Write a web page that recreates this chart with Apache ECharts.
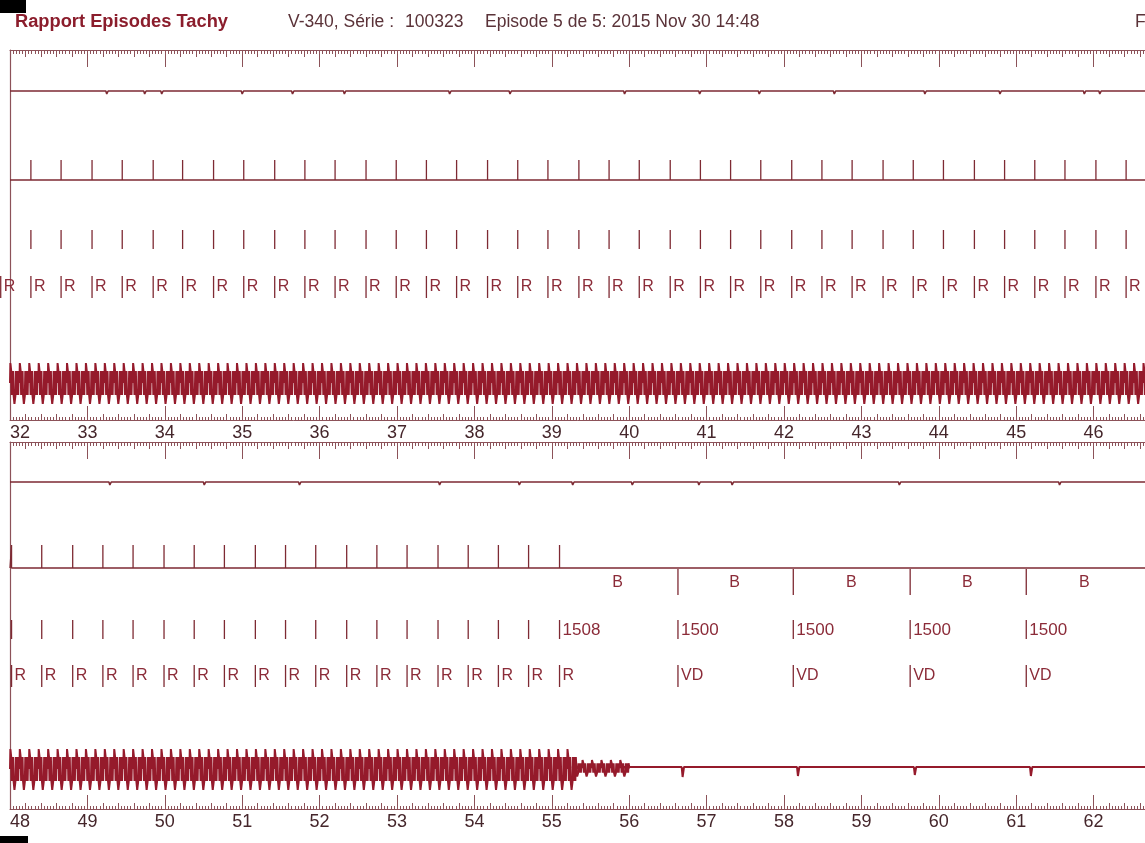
<!DOCTYPE html>
<html>
<head>
<meta charset="utf-8">
<script src="https://cdn.jsdelivr.net/npm/echarts@6/dist/echarts.min.js"></script>
<style>html,body{margin:0;padding:0;background:#fff}#c{width:1145px;height:843px}</style>
</head>
<body>
<div id="c"></div>
<script>
// ---------------- DATA ----------------
const topRange = [32, 48];
const bottomRange = [48, 64];
const secondTicks = 1;

// ventricular sense markers, top strip (s)
const topMarkerTimes = [32.27, 32.66, 33.06, 33.45, 33.85, 34.23, 34.63, 35.02, 35.42, 35.81, 36.20, 36.60, 36.99, 37.38, 37.77, 38.17, 38.56, 38.95, 39.35, 39.74, 40.13, 40.53, 40.92, 41.31, 41.70, 42.10, 42.49, 42.88, 43.28, 43.67, 44.06, 44.46, 44.85, 45.24, 45.63, 46.03, 46.42];
const topRLabelTimes = [31.88].concat(topMarkerTimes);

// bottom strip markers
const bottomMarkerTimes = [48.02, 48.41, 48.81, 49.20, 49.59, 49.99, 50.38, 50.77, 51.17, 51.56, 51.95, 52.35, 52.74, 53.13, 53.53, 53.92, 54.31, 54.70, 55.10];
const bottomVDTimes = [56.63, 58.12, 59.63, 61.13];
const bottomIntervalLabels = ['1508', '1500', '1500', '1500', '1500'];
const bottomBTimes = [55.85, 57.36, 58.87, 60.37, 61.88];
const markerLetters = { sense: 'R', paced: 'VD', brady: 'B' };

// far-field channel small deflections [time, depth]
const topTrace1Dips = [[33.25, 3], [33.54, 2], [33.74, 3], [33.96, 3], [34.68, 2], [35.00, 3], [35.33, 2], [35.65, 3], [35.97, 2], [36.32, 3], [37.29, 2], [37.68, 3], [38.00, 2], [38.46, 3], [38.84, 2], [39.59, 2], [39.94, 3], [40.13, 2], [40.91, 3], [41.17, 2], [41.68, 3], [42.33, 2], [42.65, 3], [43.23, 2], [43.82, 3], [44.27, 2], [44.79, 3], [45.30, 2], [45.88, 3], [46.08, 3], [46.27, 2]];
const bottomTrace1Dips = [[48.64, 2], [49.29, 3], [49.93, 2], [50.51, 3], [51.09, 2], [51.74, 3], [52.32, 2], [52.90, 2], [53.55, 3], [54.07, 2], [54.58, 3], [54.97, 2], [55.27, 3], [56.04, 3], [56.26, 2], [56.90, 3], [57.08, 2], [57.33, 3], [58.20, 2], [58.85, 2], [59.49, 3], [60.27, 2], [60.91, 2], [61.56, 3], [62.21, 2]];

// one cycle of the dense ventricular EGM [fraction of cycle, amplitude]
const waveShape = [[0.00, 0], [0.04, 20], [0.09, 20], [0.13, 12], [0.18, -12], [0.23, 12], [0.28, -12], [0.33, 12], [0.38, -12], [0.43, -14], [0.47, -21], [0.53, -21], [0.57, -13], [0.62, 12], [0.67, -12], [0.72, 12], [0.77, -12], [0.82, 12], [0.87, -12], [0.92, 12], [1.00, 0]];
const waveCycle = 0.122;
const topWaveSpan = [32, 46.8];
const bottomWaveSpan = [48, 55.27];
const bottomWaveTail = [55.27, 55.91];
const tailAmplitude = 0.4;
const bottomPacedDips = [[56.69, 10], [58.18, 9], [59.69, 8], [61.19, 9]];

// ---------------- LAYOUT ----------------
const PX_PER_S = 77.4;
const L = {
  top: { gridTop: 50, h: 370, trace1: 41, mkBase: 130, mkTop: 110, mid: [180, 199], r: [226, 248], rText: 237, wave: 333, flat: 333 },
  bot: { gridTop: 442, h: 367, trace1: 40, mkBase: 126, mkTop: 103, b: [127, 153], bText: 141, mid: [178, 197], midText: 188, r: [223, 245], rText: 234, wave: 327, flat: 325 }
};
const C_WAVE = '#951a2b', C_LINE = '#7e2a33', C_AXIS = '#8c5259', C_MARK = '#8b2b38', C_LABEL = '#45262b';
const FONT = 'Liberation Sans, Arial, sans-serif';

// ---------------- BUILDERS ----------------
function buildTrace(range, base, dips) {
  const pts = [[range[0], base]];
  dips.forEach(([t, d]) => { pts.push([t - 0.012, base], [t, base + d], [t + 0.018, base]); });
  pts.push([range[1], base]);
  return pts;
}
function buildMarkerLine(range, base, top, times) {
  const pts = [[range[0], base]];
  times.forEach(t => { pts.push([t, base], [t, top], [t, base]); });
  pts.push([range[1], base]);
  return pts;
}
function buildWave(span, center, scale, pts) {
  for (let c = span[0]; c < span[1] - 1e-9; c += waveCycle) {
    waveShape.forEach(([f, a]) => pts.push([c + f * waveCycle, center - a * scale]));
  }
  return pts;
}
function lineSeries(g, data, color, width) {
  return { type: 'line', xAxisIndex: g * 4, yAxisIndex: g, data, showSymbol: false, symbol: 'none', silent: true,
    lineStyle: { color, width }, animation: false, clip: true, z: 3 };
}
function markSeries(g, times, labels, y1, y2, textY, opts) {
  opts = opts || {};
  return {
    type: 'custom', xAxisIndex: g * 4, yAxisIndex: g, clip: false, silent: true, animation: false, z: 4,
    data: times.map(t => [t]),
    renderItem: function (params, api) {
      const t = api.value(0);
      const a = api.coord([t, y1]), b = api.coord([t, y2]);
      const ch = [];
      if (opts.bar !== false) ch.push({ type: 'line', shape: { x1: a[0], y1: a[1], x2: b[0], y2: b[1] }, style: { stroke: C_LINE, lineWidth: 1.3 } });
      const lab = labels ? labels[params.dataIndex] : '';
      if (lab) ch.push({ type: 'text', style: { text: lab, x: a[0] + (opts.dx == null ? 3 : opts.dx), y: api.coord([t, textY])[1], fill: C_MARK, fontSize: opts.fs || 16, fontFamily: FONT, align: opts.align || 'left', verticalAlign: 'middle' } });
      return { type: 'group', children: ch };
    }
  };
}
function xAxes(g, range) {
  const common = { type: 'value', gridIndex: g, min: range[0], max: range[1], splitLine: { show: false } };
  return [
    Object.assign({}, common, { position: 'bottom', interval: secondTicks,
      axisLine: { show: true, onZero: false, lineStyle: { color: C_AXIS, width: 1 } },
      axisTick: { show: true, inside: true, length: 14, lineStyle: { color: C_AXIS, width: 1 } },
      minorTick: { show: true, splitNumber: 25, length: 3, lineStyle: { color: C_AXIS, width: 1 } },
      axisLabel: { show: true, margin: 4, color: C_LABEL, fontSize: 18, fontFamily: FONT, alignMinLabel: 'left', showMaxLabel: false } }),
    Object.assign({}, common, { position: 'bottom', interval: 0.2,
      axisLine: { show: false, onZero: false }, axisLabel: { show: false },
      axisTick: { show: true, inside: true, length: 6, lineStyle: { color: C_AXIS, width: 1 } } }),
    Object.assign({}, common, { position: 'top', interval: secondTicks,
      axisLine: { show: true, onZero: false, lineStyle: { color: C_AXIS, width: 1 } },
      axisTick: { show: true, inside: true, length: 17, lineStyle: { color: C_AXIS, width: 1 } },
      minorTick: { show: true, splitNumber: 25, length: 4, lineStyle: { color: C_AXIS, width: 1 } },
      axisLabel: { show: false } }),
    Object.assign({}, common, { position: 'top', interval: 0.2,
      axisLine: { show: false, onZero: false }, axisLabel: { show: false },
      axisTick: { show: true, inside: true, length: 7, lineStyle: { color: C_AXIS, width: 1 } } })
  ];
}

// ---------------- SERIES ----------------
const T = L.top, B = L.bot;
const series = [];
// top strip
series.push(lineSeries(0, buildTrace(topRange, T.trace1, topTrace1Dips), C_LINE, 1.6));
series.push(lineSeries(0, buildMarkerLine(topRange, T.mkBase, T.mkTop, topMarkerTimes), C_LINE, 1.3));
series.push(markSeries(0, topMarkerTimes, null, T.mid[0], T.mid[1], 0));
series.push(markSeries(0, topRLabelTimes, topRLabelTimes.map(() => markerLetters.sense), T.r[0], T.r[1], T.rText));
series.push(lineSeries(0, buildWave(topWaveSpan, T.wave, 1, []), C_WAVE, 2));
// bottom strip
series.push(lineSeries(1, buildTrace(bottomRange, B.trace1, bottomTrace1Dips), C_LINE, 1.6));
series.push(lineSeries(1, buildMarkerLine(bottomRange, B.mkBase, B.mkTop, bottomMarkerTimes), C_LINE, 1.3));
series.push(markSeries(1, bottomVDTimes, null, B.b[0], B.b[1], 0));
series.push(markSeries(1, bottomBTimes, bottomBTimes.map(() => markerLetters.brady), 0, 0, B.bText, { bar: false, align: 'center', dx: 0 }));
const bottomMidTimes = bottomMarkerTimes.concat(bottomVDTimes);
const bottomMidLabels = bottomMarkerTimes.map((_, i) => i === bottomMarkerTimes.length - 1 ? bottomIntervalLabels[0] : '').concat(bottomIntervalLabels.slice(1));
series.push(markSeries(1, bottomMidTimes, bottomMidLabels, B.mid[0], B.mid[1], B.midText, { fs: 17 }));
const bottomRLabels = bottomMarkerTimes.map(() => markerLetters.sense).concat(bottomVDTimes.map(() => markerLetters.paced));
series.push(markSeries(1, bottomMidTimes, bottomRLabels, B.r[0], B.r[1], B.rText));
const bw = buildWave(bottomWaveSpan, B.wave, 1, []);
buildWave(bottomWaveTail, B.flat + 1, tailAmplitude, bw);
const flat = buildTrace([bottomWaveTail[1], bottomRange[1]], B.flat, bottomPacedDips);
series.push(lineSeries(1, bw.concat(flat), C_WAVE, 2));

// ---------------- CHART ----------------
const chart = echarts.init(document.getElementById('c'), null, { renderer: 'canvas' });
const gridW = (topRange[1] - topRange[0]) * PX_PER_S;
chart.setOption({
  backgroundColor: '#ffffff',
  animation: false,
  grid: [
    { left: 10, top: T.gridTop, width: gridW, height: T.h, containLabel: false, outerBoundsMode: 'none' },
    { left: 10, top: B.gridTop, width: gridW, height: B.h, containLabel: false, outerBoundsMode: 'none' }
  ],
  xAxis: xAxes(0, topRange).concat(xAxes(1, bottomRange)),
  yAxis: [
    { type: 'value', gridIndex: 0, min: 0, max: T.h, inverse: true, axisLine: { show: true, lineStyle: { color: C_AXIS, width: 1.2 } }, axisTick: { show: false }, axisLabel: { show: false }, splitLine: { show: false } },
    { type: 'value', gridIndex: 1, min: 0, max: B.h, inverse: true, axisLine: { show: true, lineStyle: { color: C_AXIS, width: 1.2 } }, axisTick: { show: false }, axisLabel: { show: false }, splitLine: { show: false } }
  ],
  graphic: [
    { type: 'rect', left: 0, top: 0, shape: { width: 26, height: 13 }, style: { fill: '#000' } },
    { type: 'rect', left: 0, top: 836, shape: { width: 28, height: 7 }, style: { fill: '#000' } },
    { type: 'text', x: 15, y: 22, style: { text: 'Rapport Episodes Tachy', fill: '#8b1d2c', font: 'bold 18.3px ' + FONT, verticalAlign: 'middle' } },
    { type: 'text', x: 288, y: 22, style: { text: 'V-340, Série :', fill: '#5a3238', font: '17.5px ' + FONT, verticalAlign: 'middle' } },
    { type: 'text', x: 405, y: 22, style: { text: '100323', fill: '#5a3238', font: '17.5px ' + FONT, verticalAlign: 'middle' } },
    { type: 'text', x: 485, y: 22, style: { text: 'Episode 5 de 5: 2015 Nov 30 14:48', fill: '#5a3238', font: '17.5px ' + FONT, verticalAlign: 'middle' } },
    { type: 'text', x: 1135, y: 22, style: { text: 'F', fill: '#5a3238', font: '17.5px ' + FONT, verticalAlign: 'middle' } }
  ],
  series
});
</script>
</body>
</html>
